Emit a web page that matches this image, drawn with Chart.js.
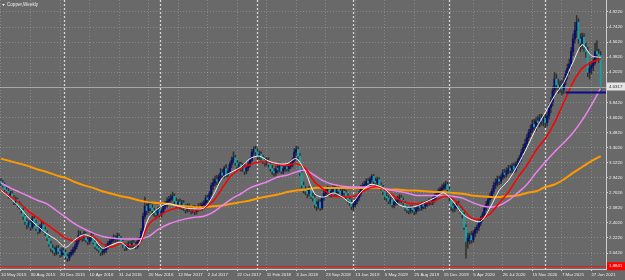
<!DOCTYPE html>
<html>
<head>
<meta charset="utf-8">
<title>Copper,Weekly</title>
<script src="https://cdn.jsdelivr.net/npm/chart.js@4.4.1/dist/chart.umd.min.js"></script>
<style>
    html, body { margin: 0; padding: 0; background: #696969; }
    #wrap { width: 625px; height: 280px; }
</style>
</head>
<body>
<div id="wrap"><canvas id="chart" width="625" height="280"></canvas></div>
<script>
// Copper weekly candles, one bar per week from 10 May 2015
const opens = [
    2.90, 2.88, 2.85, 2.80, 2.78, 2.72, 2.75, 2.70, 2.65, 2.68,
    2.62, 2.60, 2.55, 2.48, 2.42, 2.38, 2.40, 2.35, 2.45, 2.40,
    2.34, 2.30, 2.35, 2.38, 2.32, 2.28, 2.22, 2.15, 2.10, 2.08,
    2.05, 2.10, 2.06, 2.02, 2.07, 2.05, 2.00, 1.98, 2.02, 2.05,
    2.08, 2.12, 2.18, 2.25, 2.24, 2.22, 2.27, 2.20, 2.18, 2.22,
    2.25, 2.17, 2.12, 2.10, 2.08, 2.05, 2.06, 2.08, 2.12, 2.15,
    2.18, 2.20, 2.22, 2.21, 2.24, 2.22, 2.18, 2.14, 2.10, 2.12,
    2.15, 2.13, 2.16, 2.14, 2.12, 2.18, 2.20, 2.30, 2.48, 2.60,
    2.55, 2.62, 2.58, 2.55, 2.52, 2.50, 2.56, 2.50, 2.54, 2.60,
    2.62, 2.66, 2.68, 2.70, 2.72, 2.66, 2.62, 2.65, 2.60, 2.64,
    2.58, 2.56, 2.60, 2.57, 2.55, 2.58, 2.54, 2.57, 2.60, 2.58,
    2.62, 2.64, 2.70, 2.68, 2.75, 2.85, 2.88, 2.92, 2.90, 2.95,
    3.00, 2.97, 3.05, 2.98, 3.02, 3.10, 3.15, 3.18, 3.12, 3.08,
    3.10, 3.05, 3.08, 3.02, 3.06, 3.10, 3.15, 3.25, 3.28, 3.25,
    3.20, 3.22, 3.18, 3.15, 3.12, 3.15, 3.10, 3.05, 3.02, 3.00,
    3.05, 3.04, 3.08, 3.02, 3.05, 3.07, 3.05, 3.08, 3.10, 3.15,
    3.25, 3.28, 3.20, 3.00, 2.85, 2.80, 2.78, 2.75, 2.80, 2.72,
    2.70, 2.62, 2.60, 2.65, 2.58, 2.70, 2.75, 2.78, 2.80, 2.75,
    2.78, 2.82, 2.76, 2.80, 2.78, 2.74, 2.78, 2.76, 2.72, 2.68,
    2.65, 2.60, 2.62, 2.66, 2.70, 2.75, 2.82, 2.85, 2.86, 2.90,
    2.88, 2.92, 2.96, 2.90, 2.88, 2.92, 2.85, 2.82, 2.78, 2.72,
    2.70, 2.66, 2.68, 2.62, 2.65, 2.66, 2.68, 2.70, 2.67, 2.64,
    2.58, 2.56, 2.55, 2.58, 2.56, 2.54, 2.57, 2.60, 2.58, 2.62,
    2.60, 2.63, 2.64, 2.66, 2.65, 2.68, 2.72, 2.75, 2.78, 2.80,
    2.82, 2.85, 2.86, 2.80, 2.70, 2.60, 2.58, 2.60, 2.62, 2.58,
    2.55, 2.50, 2.35, 2.18, 2.22, 2.25, 2.20, 2.28, 2.32, 2.35,
    2.40, 2.45, 2.50, 2.58, 2.62, 2.68, 2.72, 2.78, 2.85, 2.88,
    2.92, 2.90, 2.95, 3.00, 2.98, 3.02, 3.05, 3.03, 3.08, 3.04,
    3.10, 3.14, 3.18, 3.24, 3.30, 3.35, 3.42, 3.48, 3.52, 3.58,
    3.55, 3.62, 3.60, 3.65, 3.62, 3.65, 3.60, 3.68, 3.78, 3.85,
    3.98, 4.12, 4.05, 4.02, 4.05, 4.00, 4.10, 4.18, 4.25, 4.30,
    4.45, 4.60, 4.70, 4.80, 4.60, 4.55, 4.62, 4.50, 4.45, 4.20,
    4.25, 4.28, 4.32, 4.45, 4.42, 4.40
];
const highs = [
    2.93, 2.91, 2.88, 2.84, 2.81, 2.78, 2.78, 2.73, 2.71, 2.70,
    2.66, 2.63, 2.58, 2.51, 2.45, 2.43, 2.43, 2.48, 2.48, 2.43,
    2.37, 2.38, 2.42, 2.41, 2.35, 2.31, 2.25, 2.18, 2.14, 2.11,
    2.13, 2.13, 2.09, 2.10, 2.10, 2.08, 2.03, 2.05, 2.08, 2.11,
    2.15, 2.21, 2.31, 2.30, 2.27, 2.30, 2.29, 2.23, 2.25, 2.28,
    2.28, 2.20, 2.15, 2.13, 2.11, 2.09, 2.11, 2.15, 2.18, 2.21,
    2.23, 2.26, 2.25, 2.28, 2.27, 2.24, 2.20, 2.16, 2.15, 2.18,
    2.18, 2.19, 2.19, 2.17, 2.20, 2.23, 2.33, 2.52, 2.71, 2.63,
    2.66, 2.65, 2.62, 2.58, 2.55, 2.59, 2.59, 2.57, 2.63, 2.66,
    2.70, 2.72, 2.74, 2.77, 2.75, 2.70, 2.68, 2.69, 2.67, 2.67,
    2.62, 2.63, 2.63, 2.60, 2.61, 2.61, 2.59, 2.63, 2.64, 2.65,
    2.67, 2.73, 2.73, 2.78, 2.88, 2.93, 2.96, 2.97, 2.98, 3.05,
    3.04, 3.08, 3.10, 3.05, 3.13, 3.19, 3.25, 3.21, 3.15, 3.13,
    3.13, 3.11, 3.11, 3.09, 3.13, 3.18, 3.28, 3.31, 3.32, 3.29,
    3.26, 3.25, 3.21, 3.18, 3.18, 3.18, 3.13, 3.09, 3.05, 3.08,
    3.09, 3.12, 3.11, 3.08, 3.10, 3.11, 3.11, 3.13, 3.18, 3.29,
    3.32, 3.31, 3.23, 3.04, 2.89, 2.84, 2.81, 2.84, 2.83, 2.76,
    2.73, 2.66, 2.68, 2.68, 2.72, 2.79, 2.81, 2.84, 2.83, 2.81,
    2.86, 2.85, 2.83, 2.84, 2.81, 2.81, 2.81, 2.79, 2.75, 2.71,
    2.68, 2.64, 2.69, 2.73, 2.78, 2.85, 2.88, 2.90, 2.93, 2.93,
    2.95, 2.98, 2.98, 2.94, 2.95, 2.94, 2.88, 2.85, 2.81, 2.76,
    2.73, 2.71, 2.70, 2.68, 2.69, 2.72, 2.74, 2.73, 2.70, 2.66,
    2.61, 2.59, 2.61, 2.61, 2.59, 2.60, 2.63, 2.63, 2.65, 2.65,
    2.66, 2.67, 2.69, 2.69, 2.71, 2.75, 2.78, 2.81, 2.83, 2.86,
    2.88, 2.90, 2.89, 2.83, 2.73, 2.64, 2.63, 2.66, 2.66, 2.61,
    2.58, 2.53, 2.38, 2.28, 2.28, 2.30, 2.31, 2.35, 2.38, 2.43,
    2.48, 2.53, 2.61, 2.66, 2.71, 2.76, 2.81, 2.89, 2.93, 2.96,
    2.96, 2.98, 3.04, 3.04, 3.06, 3.09, 3.09, 3.11, 3.12, 3.13,
    3.17, 3.21, 3.28, 3.34, 3.40, 3.46, 3.52, 3.57, 3.63, 3.64,
    3.66, 3.68, 3.70, 3.70, 3.69, 3.70, 3.72, 3.82, 3.90, 4.03,
    4.20, 4.18, 4.12, 4.10, 4.10, 4.14, 4.22, 4.30, 4.36, 4.50,
    4.66, 4.80, 4.88, 4.84, 4.66, 4.67, 4.66, 4.55, 4.50, 4.32,
    4.33, 4.36, 4.55, 4.58, 4.48, 4.45
];
const lows = [
    2.85, 2.83, 2.77, 2.74, 2.70, 2.69, 2.67, 2.62, 2.62, 2.59,
    2.57, 2.52, 2.44, 2.38, 2.33, 2.35, 2.31, 2.33, 2.37, 2.31,
    2.27, 2.28, 2.32, 2.29, 2.25, 2.19, 2.12, 2.06, 2.04, 2.01,
    2.02, 2.03, 1.99, 2.00, 2.02, 1.97, 1.94, 1.95, 2.00, 2.02,
    2.05, 2.09, 2.15, 2.20, 2.18, 2.19, 2.17, 2.14, 2.15, 2.19,
    2.15, 2.09, 2.07, 2.05, 2.01, 2.02, 2.03, 2.05, 2.09, 2.12,
    2.15, 2.17, 2.17, 2.18, 2.19, 2.15, 2.11, 2.07, 2.07, 2.09,
    2.10, 2.10, 2.11, 2.09, 2.10, 2.15, 2.18, 2.28, 2.45, 2.50,
    2.52, 2.55, 2.50, 2.48, 2.45, 2.47, 2.47, 2.47, 2.52, 2.57,
    2.59, 2.62, 2.65, 2.67, 2.63, 2.58, 2.59, 2.57, 2.56, 2.55,
    2.52, 2.53, 2.54, 2.51, 2.52, 2.50, 2.51, 2.54, 2.55, 2.55,
    2.58, 2.61, 2.64, 2.65, 2.72, 2.80, 2.84, 2.86, 2.86, 2.91,
    2.93, 2.94, 2.95, 2.95, 3.00, 3.06, 3.12, 3.09, 3.03, 3.04,
    3.02, 3.02, 2.98, 2.99, 3.03, 3.07, 3.13, 3.21, 3.20, 3.16,
    3.16, 3.15, 3.11, 3.08, 3.09, 3.07, 3.02, 2.98, 2.96, 2.97,
    3.00, 3.01, 2.99, 2.99, 3.02, 3.02, 3.02, 3.05, 3.07, 3.13,
    3.21, 3.17, 2.97, 2.82, 2.76, 2.74, 2.70, 2.72, 2.69, 2.66,
    2.58, 2.55, 2.57, 2.55, 2.56, 2.67, 2.71, 2.74, 2.72, 2.71,
    2.75, 2.73, 2.72, 2.75, 2.71, 2.71, 2.73, 2.69, 2.64, 2.61,
    2.56, 2.55, 2.59, 2.63, 2.67, 2.72, 2.79, 2.81, 2.83, 2.84,
    2.85, 2.89, 2.87, 2.84, 2.85, 2.82, 2.79, 2.74, 2.68, 2.66,
    2.63, 2.63, 2.59, 2.58, 2.61, 2.62, 2.65, 2.64, 2.61, 2.55,
    2.52, 2.51, 2.52, 2.53, 2.50, 2.51, 2.54, 2.55, 2.55, 2.57,
    2.57, 2.60, 2.61, 2.62, 2.62, 2.65, 2.69, 2.72, 2.75, 2.77,
    2.80, 2.81, 2.77, 2.66, 2.55, 2.53, 2.54, 2.57, 2.55, 2.51,
    2.46, 2.32, 1.98, 2.10, 2.15, 2.16, 2.17, 2.24, 2.28, 2.31,
    2.37, 2.42, 2.47, 2.55, 2.59, 2.65, 2.69, 2.75, 2.81, 2.84,
    2.86, 2.87, 2.92, 2.94, 2.95, 2.99, 3.00, 3.00, 3.00, 3.01,
    3.06, 3.10, 3.14, 3.20, 3.25, 3.31, 3.38, 3.43, 3.48, 3.50,
    3.50, 3.55, 3.55, 3.57, 3.56, 3.54, 3.56, 3.64, 3.72, 3.80,
    3.92, 4.00, 3.95, 3.96, 3.93, 3.95, 4.05, 4.12, 4.18, 4.25,
    4.40, 4.55, 4.62, 4.55, 4.45, 4.48, 4.45, 4.38, 4.15, 4.12,
    4.18, 4.22, 4.30, 4.35, 4.32, 3.98
];
const closes = [
    2.88, 2.85, 2.80, 2.78, 2.72, 2.75, 2.70, 2.65, 2.68, 2.62,
    2.60, 2.55, 2.48, 2.42, 2.38, 2.40, 2.35, 2.45, 2.40, 2.34,
    2.30, 2.35, 2.38, 2.32, 2.28, 2.22, 2.15, 2.10, 2.08, 2.05,
    2.10, 2.06, 2.02, 2.07, 2.05, 2.00, 1.98, 2.02, 2.05, 2.08,
    2.12, 2.18, 2.25, 2.24, 2.22, 2.27, 2.20, 2.18, 2.22, 2.25,
    2.17, 2.12, 2.10, 2.08, 2.05, 2.06, 2.08, 2.12, 2.15, 2.18,
    2.20, 2.22, 2.21, 2.24, 2.22, 2.18, 2.14, 2.10, 2.12, 2.15,
    2.13, 2.16, 2.14, 2.12, 2.18, 2.20, 2.30, 2.48, 2.60, 2.55,
    2.62, 2.58, 2.55, 2.52, 2.50, 2.56, 2.50, 2.54, 2.60, 2.62,
    2.66, 2.68, 2.70, 2.72, 2.66, 2.62, 2.65, 2.60, 2.64, 2.58,
    2.56, 2.60, 2.57, 2.55, 2.58, 2.54, 2.57, 2.60, 2.58, 2.62,
    2.64, 2.70, 2.68, 2.75, 2.85, 2.88, 2.92, 2.90, 2.95, 3.00,
    2.97, 3.05, 2.98, 3.02, 3.10, 3.15, 3.18, 3.12, 3.08, 3.10,
    3.05, 3.08, 3.02, 3.06, 3.10, 3.15, 3.25, 3.28, 3.25, 3.20,
    3.22, 3.18, 3.15, 3.12, 3.15, 3.10, 3.05, 3.02, 3.00, 3.05,
    3.04, 3.08, 3.02, 3.05, 3.07, 3.05, 3.08, 3.10, 3.15, 3.25,
    3.28, 3.20, 3.00, 2.85, 2.80, 2.78, 2.75, 2.80, 2.72, 2.70,
    2.62, 2.60, 2.65, 2.58, 2.70, 2.75, 2.78, 2.80, 2.75, 2.78,
    2.82, 2.76, 2.80, 2.78, 2.74, 2.78, 2.76, 2.72, 2.68, 2.65,
    2.60, 2.62, 2.66, 2.70, 2.75, 2.82, 2.85, 2.86, 2.90, 2.88,
    2.92, 2.96, 2.90, 2.88, 2.92, 2.85, 2.82, 2.78, 2.72, 2.70,
    2.66, 2.68, 2.62, 2.65, 2.66, 2.68, 2.70, 2.67, 2.64, 2.58,
    2.56, 2.55, 2.58, 2.56, 2.54, 2.57, 2.60, 2.58, 2.62, 2.60,
    2.63, 2.64, 2.66, 2.65, 2.68, 2.72, 2.75, 2.78, 2.80, 2.82,
    2.85, 2.86, 2.80, 2.70, 2.60, 2.58, 2.60, 2.62, 2.58, 2.55,
    2.50, 2.35, 2.18, 2.22, 2.25, 2.20, 2.28, 2.32, 2.35, 2.40,
    2.45, 2.50, 2.58, 2.62, 2.68, 2.72, 2.78, 2.85, 2.88, 2.92,
    2.90, 2.95, 3.00, 2.98, 3.02, 3.05, 3.03, 3.08, 3.04, 3.10,
    3.14, 3.18, 3.24, 3.30, 3.35, 3.42, 3.48, 3.52, 3.58, 3.55,
    3.62, 3.60, 3.65, 3.62, 3.65, 3.60, 3.68, 3.78, 3.85, 3.98,
    4.12, 4.05, 4.02, 4.05, 4.00, 4.10, 4.18, 4.25, 4.30, 4.45,
    4.60, 4.70, 4.80, 4.60, 4.55, 4.62, 4.50, 4.45, 4.20, 4.25,
    4.28, 4.32, 4.45, 4.42, 4.40, 4.03
];

// Moving averages
const maBars = [
    0, 5, 10, 15, 20, 25, 30, 35, 40, 45, 50, 55, 60, 65, 70, 75, 80, 85, 90, 95,
    100, 105, 110, 115, 120, 125, 130, 135, 140, 145, 150, 155, 160, 165, 170, 175, 180, 185, 190, 195,
    200, 205, 210, 215, 220, 225, 230, 235, 240, 245, 250, 255, 260, 265, 270, 275, 280, 285, 290, 295,
    300, 305, 310, 315, 320, 325
];
const maWhite = [
    2.79, 2.70, 2.59, 2.46, 2.36, 2.27, 2.20, 2.11, 2.20, 2.26,
    2.22, 2.10, 2.14, 2.17, 2.09, 2.16, 2.46, 2.57, 2.63, 2.61,
    2.58, 2.57, 2.58, 2.73, 2.94, 3.01, 3.07, 3.17, 3.20, 3.14,
    3.11, 3.11, 3.17, 3.01, 2.75, 2.71, 2.76, 2.71, 2.64, 2.77,
    2.86, 2.84, 2.77, 2.63, 2.59, 2.60, 2.65, 2.70, 2.76, 2.66,
    2.51, 2.44, 2.42, 2.58, 2.79, 2.91, 3.09, 3.30, 3.53, 3.72,
    3.92, 4.08, 4.32, 4.53, 4.40, 4.38
];
const maRed = [
    2.79, 2.72, 2.64, 2.54, 2.46, 2.38, 2.30, 2.22, 2.19, 2.24,
    2.24, 2.15, 2.11, 2.16, 2.13, 2.16, 2.38, 2.48, 2.54, 2.58,
    2.58, 2.55, 2.58, 2.66, 2.82, 2.97, 3.05, 3.10, 3.13, 3.13,
    3.10, 3.09, 3.11, 3.05, 2.89, 2.80, 2.72, 2.72, 2.71, 2.76,
    2.82, 2.83, 2.77, 2.69, 2.64, 2.63, 2.64, 2.66, 2.72, 2.69,
    2.58, 2.46, 2.45, 2.51, 2.64, 2.77, 2.94, 3.09, 3.27, 3.41,
    3.60, 3.84, 4.08, 4.25, 4.32, 4.36
];
const maViolet = [
    2.88, 2.82, 2.77, 2.72, 2.67, 2.63, 2.55, 2.47, 2.39, 2.33,
    2.28, 2.24, 2.22, 2.21, 2.21, 2.21, 2.24, 2.32, 2.38, 2.42,
    2.45, 2.47, 2.48, 2.53, 2.61, 2.69, 2.75, 2.82, 2.86, 2.90,
    2.95, 2.97, 3.01, 3.03, 2.97, 2.90, 2.86, 2.84, 2.83, 2.83,
    2.83, 2.83, 2.80, 2.78, 2.76, 2.73, 2.73, 2.73, 2.73, 2.72,
    2.70, 2.65, 2.61, 2.59, 2.61, 2.67, 2.76, 2.86, 3.00, 3.13,
    3.25, 3.36, 3.48, 3.63, 3.81, 4.01
];
const maOrange = [
    3.17, 3.14, 3.11, 3.08, 3.04, 3.01, 2.97, 2.94, 2.89, 2.85,
    2.82, 2.78, 2.75, 2.72, 2.70, 2.67, 2.65, 2.64, 2.63, 2.61,
    2.60, 2.59, 2.59, 2.60, 2.61, 2.63, 2.65, 2.67, 2.70, 2.72,
    2.74, 2.77, 2.79, 2.80, 2.82, 2.82, 2.82, 2.82, 2.82, 2.82,
    2.82, 2.82, 2.80, 2.80, 2.79, 2.79, 2.78, 2.77, 2.77, 2.76,
    2.75, 2.73, 2.72, 2.71, 2.71, 2.72, 2.73, 2.76, 2.78, 2.83,
    2.86, 2.92, 3.00, 3.07, 3.14, 3.20
];

// Axis ticks
const priceTicks = [2.042, 2.222, 2.402, 2.582, 2.762, 2.942, 3.122, 3.302, 3.482,
    3.662, 3.842, 4.022, 4.202, 4.382, 4.562, 4.742, 4.922];
const dateTicks = [0, 16, 32, 48, 64, 80, 96, 112, 128, 144, 160, 176, 192, 208, 224, 240, 256, 272, 288, 304, 320];
const dateLabels = ['10 May 2015', '30 Aug 2015', '20 Dec 2015', '10 Apr 2016', '31 Jul 2016', '20 Nov 2016',
    '12 Mar 2017', '2 Jul 2017', '22 Oct 2017', '11 Feb 2018', '3 Jun 2018', '23 Sep 2018', '13 Jan 2019',
    '5 May 2019', '25 Aug 2019', '15 Dec 2019', '5 Apr 2020', '26 Jul 2020', '15 Nov 2020', '7 Mar 2021', '27 Jun 2021'];
// first bar of each new year (period separators)
const yearStarts = [34, 86, 139, 191, 243, 295];

// Horizontal levels
const bidPrice = 4.0317;
const supportPrice = 1.8841;
const bluePrice = 3.96;
const blueFromBar = 306;

const axisFont = { family: '"Liberation Sans", Arial, sans-serif', size: 4.4 };
const textColor = '#ececec';
const gridColor = 'rgba(200,200,200,0.32)';

const wickData = closes.map((c, i) => ({ x: i, y: [lows[i], highs[i]] }));
const bodyData = closes.map((c, i) => ({ x: i, y: [opens[i], c] }));
const bodyColors = closes.map((c, i) => c >= opens[i] ? '#0b1070' : '#229c9c');

function maPoints(values) {
    return values.map((v, k) => ({ x: maBars[k], y: v }));
}

const mtDecor = {
    id: 'mtDecor',
    beforeDatasetsDraw(chart) {
        const ctx = chart.ctx;
        const area = chart.chartArea;
        const xs = chart.scales.x;
        ctx.save();
        ctx.strokeStyle = 'rgba(235,235,235,0.85)';
        ctx.lineWidth = 1.3;
        ctx.setLineDash([2, 2]);
        yearStarts.forEach(function(b) {
            const px = Math.round(xs.getPixelForValue(b)) + 0.5;
            ctx.beginPath();
            ctx.moveTo(px, area.top);
            ctx.lineTo(px, area.bottom);
            ctx.stroke();
        });
        ctx.restore();
    },
    afterDatasetsDraw(chart) {
        const ctx = chart.ctx;
        const area = chart.chartArea;
        const xs = chart.scales.x;
        const ys = chart.scales.y;
        ctx.save();
        // bid line
        let py = Math.round(ys.getPixelForValue(bidPrice)) + 0.5;
        ctx.strokeStyle = 'rgba(190,190,190,0.7)';
        ctx.lineWidth = 1;
        ctx.beginPath();
        ctx.moveTo(area.left, py);
        ctx.lineTo(area.right, py);
        ctx.stroke();
        // red support line
        py = Math.round(ys.getPixelForValue(supportPrice)) + 0.5;
        ctx.strokeStyle = '#ff1010';
        ctx.beginPath();
        ctx.moveTo(area.left, py);
        ctx.lineTo(area.right, py);
        ctx.stroke();
        // blue level
        py = ys.getPixelForValue(bluePrice);
        ctx.strokeStyle = '#0a0a8a';
        ctx.lineWidth = 2;
        ctx.beginPath();
        ctx.moveTo(xs.getPixelForValue(blueFromBar), py);
        ctx.lineTo(area.right, py);
        ctx.stroke();
        ctx.restore();
    },
    afterDraw(chart) {
        const ctx = chart.ctx;
        const area = chart.chartArea;
        const ys = chart.scales.y;
        ctx.save();
        ctx.font = axisFont.size + 'px ' + axisFont.family;
        ctx.textBaseline = 'middle';
        ctx.textAlign = 'left';

        // price boxes on the axis
        let py = ys.getPixelForValue(bidPrice);
        ctx.fillStyle = '#e4e4e4';
        ctx.fillRect(area.right + 1, py - 4, 18, 8);
        ctx.fillStyle = '#303030';
        ctx.fillText(bidPrice.toFixed(4), area.right + 3, py);

        py = ys.getPixelForValue(supportPrice);
        ctx.fillStyle = '#ff0000';
        ctx.fillRect(area.right + 1, py - 4, 18, 8);
        ctx.fillStyle = '#ffffff';
        ctx.fillText(supportPrice.toFixed(4), area.right + 3, py);

        // symbol caption
        ctx.fillStyle = textColor;
        ctx.font = '4.6px "Liberation Sans", Arial, sans-serif';
        ctx.fillText('Copper,Weekly', 7, 5);
        ctx.beginPath();
        ctx.moveTo(2, 4);
        ctx.lineTo(5, 4);
        ctx.lineTo(3.5, 6);
        ctx.closePath();
        ctx.fill();
        ctx.restore();
    }
};

new Chart(document.getElementById('chart'), {
    data: {
        datasets: [
            {
                type: 'line', data: maPoints(maWhite), borderColor: '#f2f2f2', borderWidth: 1,
                pointRadius: 0, tension: 0.3, order: 0
            },
            {
                type: 'line', data: maPoints(maRed), borderColor: '#ff0000', borderWidth: 1.5,
                pointRadius: 0, tension: 0.3, order: 1
            },
            {
                type: 'line', data: maPoints(maViolet), borderColor: '#ee82ee', borderWidth: 1.5,
                pointRadius: 0, tension: 0.3, order: 2
            },
            {
                type: 'line', data: maPoints(maOrange), borderColor: '#ff9900', borderWidth: 2,
                pointRadius: 0, tension: 0.3, order: 3
            },
            {
                type: 'bar', data: bodyData, backgroundColor: bodyColors, barThickness: 1.6,
                grouped: false, minBarLength: 1, order: 10
            },
            {
                type: 'bar', data: wickData, backgroundColor: '#2e2e2e', barThickness: 0.8,
                grouped: false, order: 11
            }
        ]
    },
    options: {
        responsive: false,
        animation: false,
        events: [],
        layout: { padding: 0, autoPadding: false },
        plugins: {
            legend: { display: false },
            tooltip: { enabled: false }
        },
        scales: {
            x: {
                type: 'linear',
                position: 'bottom',
                offset: false,
                min: -0.54,
                max: 327.9,
                afterBuildTicks: function(axis) {
                    axis.ticks = dateTicks.map(v => ({ value: v }));
                },
                afterFit: function(axis) {
                    axis.height = 11;
                    axis.paddingLeft = 0;
                    axis.paddingRight = 0;
                },
                ticks: {
                    autoSkip: false,
                    maxRotation: 0,
                    align: 'start',
                    padding: 1,
                    color: textColor,
                    font: axisFont,
                    callback: function(value, index) {
                        return dateLabels[index];
                    }
                },
                grid: {
                    offset: false, color: gridColor, lineWidth: 1,
                    tickLength: 2, tickColor: '#d0d0d0'
                },
                border: { color: '#d0d0d0', dash: [1, 2] }
            },
            y: {
                type: 'linear',
                position: 'right',
                min: 1.8508,
                max: 5.0654,
                afterBuildTicks: function(axis) {
                    axis.ticks = priceTicks.map(v => ({ value: v }));
                },
                afterFit: function(axis) {
                    axis.width = 19;
                    axis.paddingTop = 0;
                    axis.paddingBottom = 0;
                },
                ticks: {
                    padding: 1,
                    color: textColor,
                    font: axisFont,
                    callback: function(value) {
                        return value.toFixed(4);
                    }
                },
                grid: { color: gridColor, lineWidth: 1, tickLength: 2, tickColor: '#d0d0d0' },
                border: { color: '#d0d0d0', dash: [1, 2] }
            }
        }
    },
    plugins: [mtDecor]
});
</script>
</body>
</html>
